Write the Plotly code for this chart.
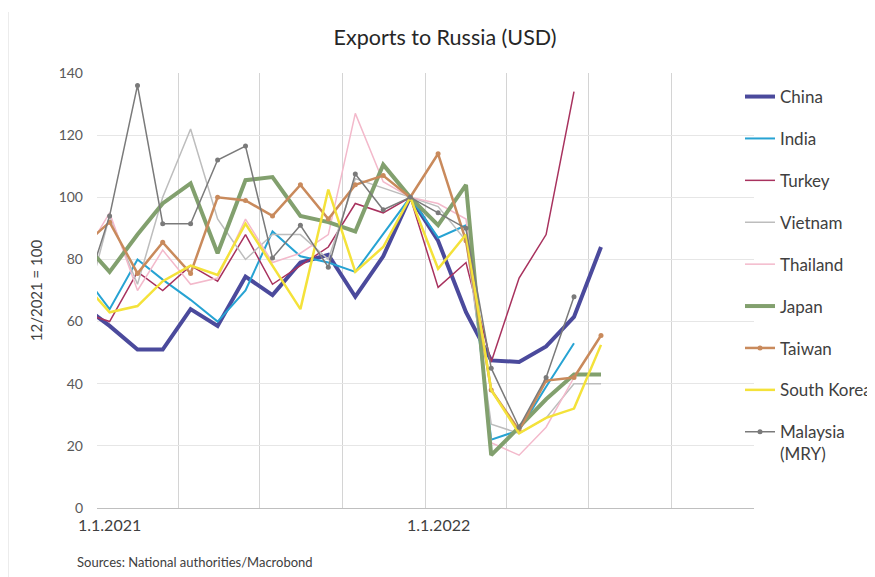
import plotly.graph_objects as go

# Months (data points plotted mid-month)
months = ["2020-12", "2021-01", "2021-02", "2021-03", "2021-04", "2021-05", "2021-06",
          "2021-07", "2021-08", "2021-09", "2021-10", "2021-11", "2021-12",
          "2022-01", "2022-02", "2022-03", "2022-04", "2022-05", "2022-06", "2022-07"]

china = [65.4, 58.6, 51, 51, 64, 58.6, 74.5, 68.5, 79, 81.5, 68, 81, 100, 86, 63, 47.5, 47, 52, 61.5, 84]
india = [76, 64, 80, 73.5, 67, 60, 70, 89, 81, 79, 76, 88, 100, 87, 91, 22, 25, 39, 53, None]
turkey = [63, 60, 76, 70, 78, 73, 88, 72, 78, 84, 98, 95, 100, 71, 79, 47, 74, 88, 134, None]
vietnam = [60, 94, 72, 100, 122, 93, 80, 88, 88, 80, 106, 103, 100, 97, 86, 27, 24, 29, 40, 40]
thailand = [80, 95, 70, 83, 72, 74, 93, 79, 82, 88, 127, 105, 100, 98, 93, 21, 17, 26, 42, None]
japan = [86, 76, 88, 98, 104.5, 82, 105.5, 106.5, 94, 92, 89, 110.5, 100, 91, 104, 17, 26, 35, 43, 43]
taiwan = [84, 92, 75.5, 85.5, 75.5, 100, 99, 94, 104, 93, 104, 107, 100, 114, 86, 38, 25, 41, 42, 55.5]
south_korea = [73, 63, 65, 73, 78, 75, 91.5, 78, 64, 102.5, 76, 84, 100, 77, 88, 38, 24, 29, 32, 52.5]
malaysia = [66, 94, 136, 91.5, 91.5, 112, 116.5, 80.5, 91, 77.5, 107.5, 96, 100, 95, 90, 45, 26, 42, 68, None]

x_dates = [m + "-15" for m in months]

series = [
    ("China", china, "#4B4A9C", 4, False),
    ("India", india, "#27A3D3", 2, False),
    ("Turkey", turkey, "#A8325E", 1.5, False),
    ("Vietnam", vietnam, "#BDBDBD", 1.5, False),
    ("Thailand", thailand, "#F3B9CB", 1.5, False),
    ("Japan", japan, "#82A06E", 4, False),
    ("Taiwan", taiwan, "#C98A5C", 2.5, True),
    ("South Korea", south_korea, "#F4E23A", 2.5, False),
    ("Malaysia<br>(MRY)", malaysia, "#7A7A7A", 1.5, True),
]

fig = go.Figure()
for i, (name, vals, color, width, markers) in enumerate(series):
    fig.add_trace(go.Scatter(
        x=x_dates, y=vals, name=name, legendgroup=str(i),
        mode="lines+markers" if markers else "lines",
        line=dict(color=color, width=width),
        marker=dict(size=5, color=color),
        cliponaxis=True,
    ))

font_family = "Lato, 'Noto Sans', sans-serif"

# page offset of 8px (browser body margin) compensated in margins
fig.update_layout(
    width=875, height=577,
    margin=dict(l=89, r=129, t=65, b=77, autoexpand=False),
    paper_bgcolor="white", plot_bgcolor="white",
    font=dict(family=font_family, color="#404040"),
    title=dict(text="Exports to Russia (USD)", x=(445 - 97) / 657, xref="paper", xanchor="center",
               y=1 - 29 / 577, yref="container", yanchor="middle",
               font=dict(size=21.5, color="#262626", family=font_family)),
    showlegend=True,
    legend=dict(x=(740 - 97) / 657, xanchor="left", y=(508 - 79) / 435, yanchor="top",
                bgcolor="rgba(0,0,0,0)", font=dict(size=17, color="#404040"),
                tracegroupgap=16.8, valign="top", itemwidth=30),
)

fig.update_xaxes(
    type="date", range=["2021-01-01", "2023-01-01"],
    tick0="2021-01-01", dtick="M3", showticklabels=False, ticks="",
    showgrid=True, gridcolor="#D4D4D4", gridwidth=1,
    showline=True, linecolor="#BFBFBF", linewidth=1,
    zeroline=False,
)
fig.update_yaxes(
    range=[0, 140], dtick=20, showgrid=True, gridcolor="#E6E6E6", gridwidth=1,
    zeroline=False, showline=False, ticks="",
    tickfont=dict(size=14, color="#595959"), ticklabelstandoff=13,
    title=dict(text="12/2021 = 100", font=dict(size=15, color="#404040"), standoff=12),
)

fig.add_shape(type="line", xref="x", yref="paper", x0="2022-01-01", x1="2022-01-01", y0=0, y1=1,
              line=dict(color="#B0B0B0", width=1), layer="below")

for lbl, d in [("1.1.2021", "2021-01-15"), ("1.1.2022", "2022-01-15")]:
    fig.add_annotation(x=d, xref="x", y=0, yref="paper", yanchor="top", yshift=-5,
                       text=lbl, showarrow=False, font=dict(size=16, color="#404040"))

fig.add_annotation(x=(75 - 97) / 657, xref="paper", xanchor="left",
                   y=(508 - 562) / 435, yref="paper", yanchor="middle",
                   text="Sources: National authorities/Macrobond", showarrow=False,
                   font=dict(size=13, color="#404040"))

fig.add_shape(type="line", xref="paper", yref="paper",
              x0=(8 - 97) / 657, x1=(8 - 97) / 657, y0=(508 - 12) / 435, y1=(508 - 590) / 435,
              line=dict(color="#D9D9D9", width=1))

fig.write_html("out.html")
